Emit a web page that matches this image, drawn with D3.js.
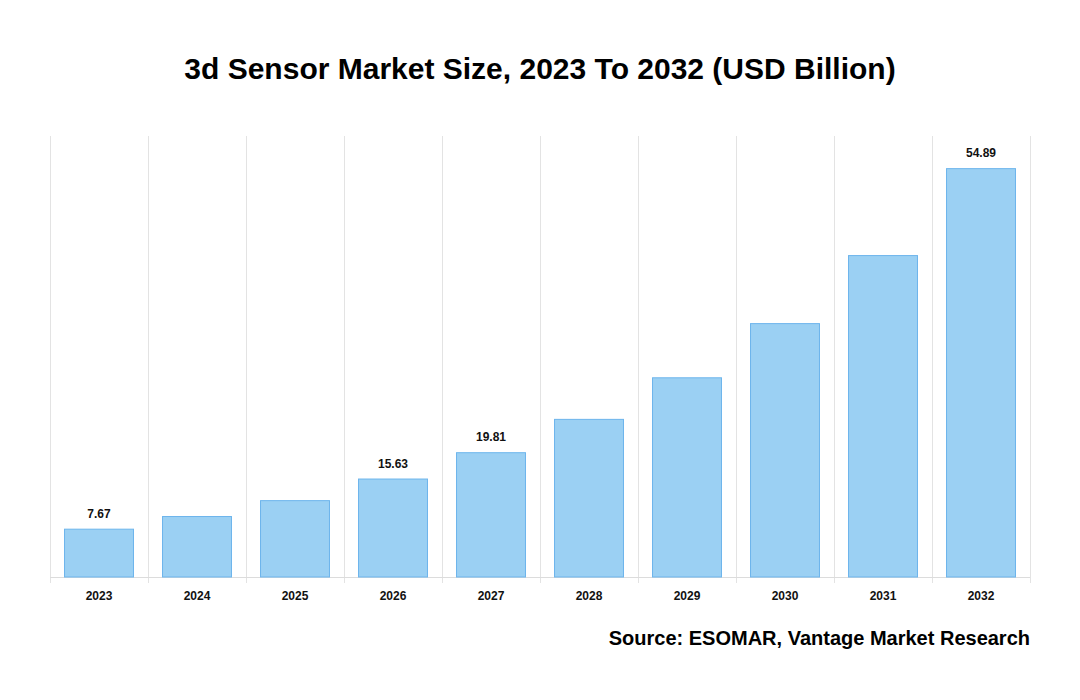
<!DOCTYPE html>
<html><head><meta charset="utf-8">
<script src="https://cdn.jsdelivr.net/npm/d3@7"></script>
<style>body{margin:0;background:#fff;font-family:"Liberation Sans",Arial,sans-serif;}</style>
</head><body>
<svg id="c" width="1080" height="700"></svg>
<script>
const categories = ["2023","2024","2025","2026","2027","2028","2029","2030","2031","2032"];
const values = [7.67, 9.68, 12.2, 15.63, 19.81, 25.1, 31.7, 40.3, 51.1, 64.9];
const valueLabels = ["7.67","","","15.63","19.81","","","","","54.89"];
const title = "3d Sensor Market Size, 2023 To 2032 (USD Billion)";
const source = "Source: ESOMAR, Vantage Market Research";

(function () {
const svg = d3.select("#c");
const pLeft = 50, pRight = 1030, pTop = 136, pBottom = 577;
const x = d3.scaleBand().domain(categories).range([pLeft, pRight]).paddingInner(0.286).paddingOuter(0.143);
const y = d3.scaleLinear().domain([0, 70]).range([pBottom, pTop]);

// vertical grid lines at category boundaries
const step = x.step();
const bounds = d3.range(categories.length + 1).map(i => pLeft + i * step);
svg.append("g").selectAll("line").data(bounds).join("line")
  .attr("x1", d => d).attr("x2", d => d).attr("y1", pTop).attr("y2", pBottom + 6)
  .attr("stroke", "#e3e3e3").attr("stroke-width", 1).attr("shape-rendering", "crispEdges");

// baseline
svg.append("line").attr("x1", pLeft).attr("x2", pRight).attr("y1", pBottom + 0.5).attr("y2", pBottom + 0.5)
  .attr("stroke", "#dcdcdc").attr("stroke-width", 1);

// bars
svg.append("g").selectAll("rect").data(values).join("rect")
  .attr("x", (d, i) => x(categories[i]) + 0.5)
  .attr("y", d => y(d) + 0.5)
  .attr("width", x.bandwidth() - 1)
  .attr("height", d => pBottom - y(d) - 0.5)
  .attr("fill", "#9bd0f3").attr("stroke", "#6db5ec").attr("stroke-width", 1);

// value labels
svg.append("g").selectAll("text").data(values).join("text")
  .attr("x", (d, i) => x(categories[i]) + x.bandwidth() / 2)
  .attr("y", d => y(d) - 11)
  .attr("text-anchor", "middle").attr("font-size", 12).attr("font-weight", "bold").attr("fill", "#111")
  .text((d, i) => valueLabels[i]);

// x axis labels
const xAxis = d3.axisBottom(x).tickSize(0).tickPadding(14);
const gx = svg.append("g").attr("transform", `translate(0,${pBottom})`).call(xAxis);
gx.select(".domain").remove();
gx.selectAll("text").attr("font-size", 12).attr("font-weight", "bold").attr("fill", "#111")
  .attr("font-family", "'Liberation Sans', Arial, sans-serif");

// title
svg.append("text").attr("x", 540).attr("y", 79).attr("text-anchor", "middle")
  .attr("font-size", 30).attr("font-weight", "bold").attr("fill", "#000").text(title);

// source
svg.append("text").attr("x", 1030).attr("y", 645).attr("text-anchor", "end")
  .attr("font-size", 20).attr("font-weight", "bold").attr("fill", "#000").text(source);
})();
</script>
</body></html>
